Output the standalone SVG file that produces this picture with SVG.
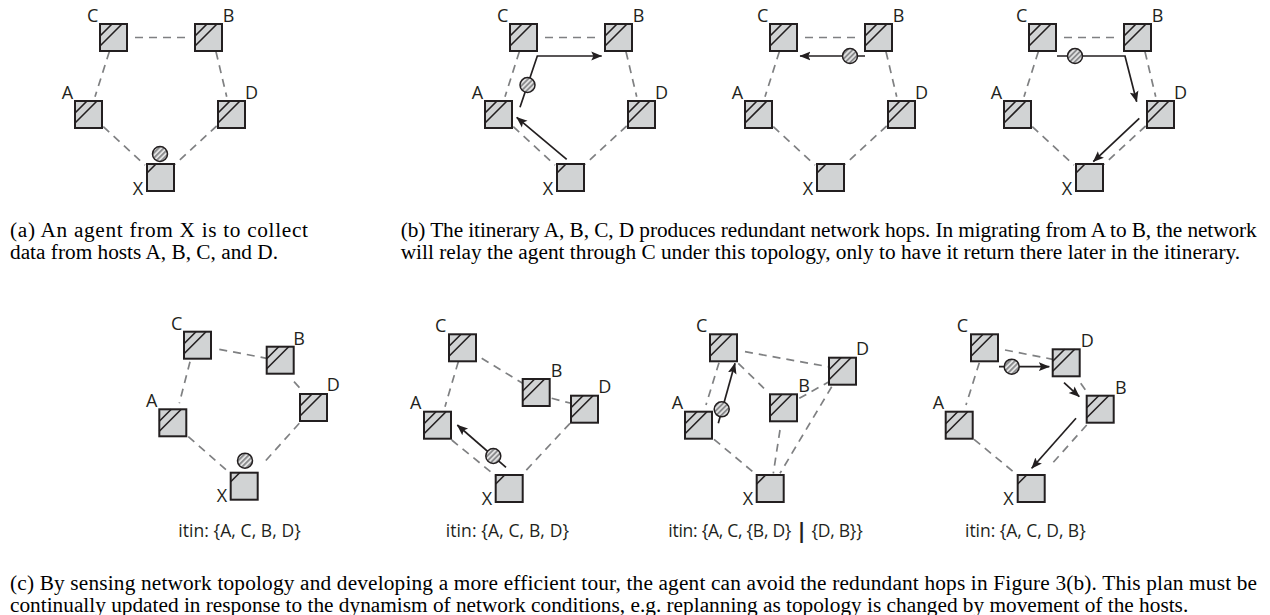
<svg xmlns="http://www.w3.org/2000/svg" xmlns:xlink="http://www.w3.org/1999/xlink" width="1270" height="615" viewBox="0 0 1270 615">
<style>
.sq{fill:#d1d3d4;stroke:#231f20;stroke-width:2}
.ht{fill:none;stroke:#231f20;stroke-width:1.6}
.edge{fill:none;stroke:#7f8082;stroke-width:1.7;stroke-dasharray:8 6}
.arr{fill:none;stroke:#231f20;stroke-width:1.7;marker-end:url(#ah)}
.agent{fill:url(#stripes);stroke:#231f20;stroke-width:1.5}
.lbl{font-family:"Open Sans","Noto Sans",sans-serif;font-size:18px;fill:#231f20}
.itin{font-family:"Open Sans","Noto Sans",sans-serif;font-size:17.5px;fill:#231f20}
.cap{font-family:"Liberation Serif","Times New Roman",serif;font-size:21.3px;fill:#000}
</style>
<defs>
<pattern id="stripes" patternUnits="userSpaceOnUse" width="3.6" height="3.6" patternTransform="rotate(45)">
<rect width="3.6" height="3.6" fill="#e6e6e6"/>
<rect width="1.9" height="3.6" fill="#8a8b8d"/>
</pattern>
<marker id="ah" viewBox="0 0 10 10" refX="9.5" refY="5" markerWidth="11" markerHeight="11" markerUnits="userSpaceOnUse" orient="auto">
<path d="M0,1 L10,5 L0,9 L2,5 z" fill="#231f20"/>
</marker>
<g id="host"><rect class="sq" x="0" y="0" width="27" height="27"/><path class="ht" d="M0,12 L12,0 M0,22 L22,0"/></g>
<g id="home"><rect class="sq" x="0" y="0" width="27" height="27"/><path class="ht" d="M0,9 L9,0"/></g>
</defs>
<rect width="1270" height="615" fill="#fff"/>

<g id="connectors">
<!-- panel a -->
<path class="edge" d="M135,37.5 L190,37.5"/>
<path class="edge" d="M109.3,51.7 L95,96.7"/>
<path class="edge" d="M216,51.7 L226.7,96.7"/>
<path class="edge" d="M103.3,126.7 L145,165"/>
<path class="edge" d="M216.7,126 L175,164.3"/>
<!-- panel b1 -->
<path class="edge" d="M545,37.5 L600,37.5"/>
<path class="edge" d="M519.3,51.7 L505,96.7"/>
<path class="edge" d="M626,51.7 L636.7,96.7"/>
<path class="edge" d="M513.3,126.7 L555,165"/>
<path class="edge" d="M626.7,126 L585,164.3"/>
<path class="arr" d="M566.7,159.3 L516.7,117.3"/>
<path class="arr" d="M520,107.3 L537.3,56 L601.7,56"/>
<!-- panel b2 -->
<path class="edge" d="M805,37.5 L860,37.5"/>
<path class="edge" d="M779.3,51.7 L765,96.7"/>
<path class="edge" d="M886,51.7 L896.7,96.7"/>
<path class="edge" d="M773.3,126.7 L815,165"/>
<path class="edge" d="M886.7,126 L845,164.3"/>
<path class="arr" d="M865,56 L800,56"/>
<!-- panel b3 -->
<path class="edge" d="M1064,37.5 L1119,37.5"/>
<path class="edge" d="M1038.3,51.7 L1024,96.7"/>
<path class="edge" d="M1145,51.7 L1155.7,96.7"/>
<path class="edge" d="M1032.3,126.7 L1074,165"/>
<path class="edge" d="M1145.7,126 L1104,164.3"/>
<path class="arr" d="M1057,56 L1125,56 L1136.7,101.7"/>
<path class="arr" d="M1139.3,118.3 L1093.3,161.7"/>
<!-- panel c1 -->
<path class="edge" d="M219.3,349.3 L266.7,358.3"/>
<path class="edge" d="M190,361.7 L179.3,403.3"/>
<path class="edge" d="M294,381.7 L301.7,390"/>
<path class="edge" d="M188.3,436.7 L228.3,471.7"/>
<path class="edge" d="M299.3,423.3 L263.3,463.3"/>
<!-- panel c2 -->
<path class="edge" d="M481.7,358.3 L522.7,383.3"/>
<path class="edge" d="M458.3,361.7 L445,406.7"/>
<path class="edge" d="M551.7,398.3 L571,403.3"/>
<path class="edge" d="M451.7,440 L496.7,476.7"/>
<path class="edge" d="M570,423.3 L523.3,473.3"/>
<path class="arr" d="M506,467.3 L457.3,425"/>
<!-- panel c3 -->
<path class="edge" d="M745,351.7 L828.3,366.7"/>
<path class="edge" d="M719,362.7 L706,405"/>
<path class="edge" d="M738.3,363.3 L764,388.3"/>
<path class="edge" d="M799.3,398.3 L829,381.7"/>
<path class="edge" d="M714,439.3 L756.7,475"/>
<path class="edge" d="M780,430 L773.3,473.3"/>
<path class="edge" d="M831.7,386.7 L780,473.3"/>
<path class="arr" d="M718.3,423.3 L735,363.3"/>
<!-- panel c4 -->
<path class="edge" d="M1005,350 L1052.7,359.3"/>
<path class="edge" d="M979.3,362.7 L966,405"/>
<path class="edge" d="M1080.7,383.3 L1087.7,393.3"/>
<path class="edge" d="M974,439.3 L1017.3,475"/>
<path class="edge" d="M1086.7,425 L1050,466"/>
<path class="arr" d="M999,366.7 L1049.3,366.7"/>
<path class="arr" d="M1064,382.7 L1079.3,396.7"/>
<path class="arr" d="M1076,418.3 L1031.7,468.3"/>
</g>

<!-- panel a nodes -->
<g id="a-C"><use xlink:href="#host" x="100" y="24"/><text class="lbl" x="87" y="22">C</text></g>
<g id="a-B"><use xlink:href="#host" x="195" y="24"/><text class="lbl" x="222.7" y="22">B</text></g>
<g id="a-A"><use xlink:href="#host" x="75" y="101"/><text class="lbl" x="61.7" y="99">A</text></g>
<g id="a-D"><use xlink:href="#host" x="218" y="101"/><text class="lbl" x="245" y="99">D</text></g>
<g id="a-X"><use xlink:href="#home" x="147" y="164"/><text class="lbl" x="132.7" y="195">X</text></g>
<g id="a-agent"><circle class="agent" cx="160" cy="154" r="7.5"/></g>

<!-- panel b1 nodes -->
<g id="b1-C"><use xlink:href="#host" x="510" y="24"/><text class="lbl" x="497" y="22">C</text></g>
<g id="b1-B"><use xlink:href="#host" x="605" y="24"/><text class="lbl" x="632.7" y="22">B</text></g>
<g id="b1-A"><use xlink:href="#host" x="485" y="101"/><text class="lbl" x="471.7" y="99">A</text></g>
<g id="b1-D"><use xlink:href="#host" x="628" y="101"/><text class="lbl" x="655" y="99">D</text></g>
<g id="b1-X"><use xlink:href="#home" x="557" y="164"/><text class="lbl" x="542.7" y="195">X</text></g>
<g id="b1-agent"><circle class="agent" cx="527.5" cy="85" r="7.5"/></g>

<!-- panel b2 nodes -->
<g id="b2-C"><use xlink:href="#host" x="770" y="24"/><text class="lbl" x="757" y="22">C</text></g>
<g id="b2-B"><use xlink:href="#host" x="865" y="24"/><text class="lbl" x="892.7" y="22">B</text></g>
<g id="b2-A"><use xlink:href="#host" x="745" y="101"/><text class="lbl" x="731.7" y="99">A</text></g>
<g id="b2-D"><use xlink:href="#host" x="888" y="101"/><text class="lbl" x="915" y="99">D</text></g>
<g id="b2-X"><use xlink:href="#home" x="817" y="164"/><text class="lbl" x="802.7" y="195">X</text></g>
<g id="b2-agent"><circle class="agent" cx="850" cy="56" r="7.5"/></g>

<!-- panel b3 nodes -->
<g id="b3-C"><use xlink:href="#host" x="1029" y="24"/><text class="lbl" x="1016" y="22">C</text></g>
<g id="b3-B"><use xlink:href="#host" x="1124" y="24"/><text class="lbl" x="1151.7" y="22">B</text></g>
<g id="b3-A"><use xlink:href="#host" x="1004" y="101"/><text class="lbl" x="990.7" y="99">A</text></g>
<g id="b3-D"><use xlink:href="#host" x="1147" y="101"/><text class="lbl" x="1174" y="99">D</text></g>
<g id="b3-X"><use xlink:href="#home" x="1076" y="164"/><text class="lbl" x="1061.7" y="195">X</text></g>
<g id="b3-agent"><circle class="agent" cx="1075" cy="56" r="7.5"/></g>

<!-- panel c1 nodes -->
<g id="c1-C"><use xlink:href="#host" x="184" y="331.7"/><text class="lbl" x="171" y="330">C</text></g>
<g id="c1-B"><use xlink:href="#host" x="266.7" y="346.7"/><text class="lbl" x="293.3" y="345">B</text></g>
<g id="c1-D"><use xlink:href="#host" x="300" y="394"/><text class="lbl" x="326.7" y="390.7">D</text></g>
<g id="c1-A"><use xlink:href="#host" x="159.3" y="409.3"/><text class="lbl" x="146" y="406.7">A</text></g>
<g id="c1-X"><use xlink:href="#home" x="230.7" y="472.7"/><text class="lbl" x="216.7" y="501.7">X</text></g>
<g id="c1-agent"><circle class="agent" cx="245" cy="460.7" r="7.5"/></g>
<text class="itin" x="178.3" y="537.3" textLength="122.4" lengthAdjust="spacing">itin: {A, C, B, D}</text>

<!-- panel c2 nodes -->
<g id="c2-C"><use xlink:href="#host" x="449" y="334.3"/><text class="lbl" x="435" y="331.7">C</text></g>
<g id="c2-B"><use xlink:href="#host" x="522.7" y="379"/><text class="lbl" x="550.7" y="376.7">B</text></g>
<g id="c2-D"><use xlink:href="#host" x="571" y="395.7"/><text class="lbl" x="598.3" y="392.7">D</text></g>
<g id="c2-A"><use xlink:href="#host" x="424" y="411.7"/><text class="lbl" x="410" y="409.3">A</text></g>
<g id="c2-X"><use xlink:href="#home" x="495.7" y="475"/><text class="lbl" x="481.7" y="505">X</text></g>
<g id="c2-agent"><circle class="agent" cx="493.3" cy="456" r="7.5"/></g>
<text class="itin" x="445.7" y="537.3" textLength="123.3" lengthAdjust="spacing">itin: {A, C, B, D}</text>

<!-- panel c3 nodes -->
<g id="c3-C"><use xlink:href="#host" x="710" y="334.3"/><text class="lbl" x="696" y="331.7">C</text></g>
<g id="c3-D"><use xlink:href="#host" x="829" y="357.7"/><text class="lbl" x="856" y="355">D</text></g>
<g id="c3-B"><use xlink:href="#host" x="770" y="394.3"/><text class="lbl" x="798.3" y="391.7">B</text></g>
<g id="c3-A"><use xlink:href="#host" x="685" y="411.7"/><text class="lbl" x="671.7" y="409.3">A</text></g>
<g id="c3-X"><use xlink:href="#home" x="756.7" y="475"/><text class="lbl" x="742.7" y="505">X</text></g>
<g id="c3-agent"><circle class="agent" cx="721.7" cy="409.3" r="7.5"/></g>
<text class="itin" x="668.3" y="537.3" textLength="194.4" lengthAdjust="spacing">itin: {A, C, {B, D} <tspan font-size="22" font-weight="bold" dy="1">|</tspan><tspan dy="-1"> {D, B}}</tspan></text>

<!-- panel c4 nodes -->
<g id="c4-C"><use xlink:href="#host" x="971" y="334.3"/><text class="lbl" x="956.7" y="331.7">C</text></g>
<g id="c4-D"><use xlink:href="#host" x="1052.7" y="349.3"/><text class="lbl" x="1080.7" y="346.7">D</text></g>
<g id="c4-B"><use xlink:href="#host" x="1086.7" y="395.7"/><text class="lbl" x="1115" y="394">B</text></g>
<g id="c4-A"><use xlink:href="#host" x="945.7" y="411.7"/><text class="lbl" x="932.7" y="409.3">A</text></g>
<g id="c4-X"><use xlink:href="#home" x="1017.7" y="475"/><text class="lbl" x="1003.3" y="505">X</text></g>
<g id="c4-agent"><circle class="agent" cx="1011.7" cy="366.7" r="7.5"/></g>
<text class="itin" x="965" y="537.3" textLength="120.7" lengthAdjust="spacing">itin: {A, C, D, B}</text>

<!-- captions -->
<text class="cap" x="10" y="237" textLength="298" lengthAdjust="spacing">(a) An agent from X is to collect</text>
<text class="cap" x="10" y="259">data from hosts A, B, C, and D.</text>
<text class="cap" x="400.7" y="237" textLength="856" lengthAdjust="spacing">(b) The itinerary A, B, C, D produces redundant network hops. In migrating from A to B, the network</text>
<text class="cap" x="400.7" y="259">will relay the agent through C under this topology, only to have it return there later in the itinerary.</text>
<text class="cap" x="10" y="590" textLength="1247" lengthAdjust="spacing">(c) By sensing network topology and developing a more efficient tour, the agent can avoid the redundant hops in Figure 3(b). This plan must be</text>
<text class="cap" x="10" y="611.5">continually updated in response to the dynamism of network conditions, e.g. replanning as topology is changed by movement of the hosts.</text>
</svg>
